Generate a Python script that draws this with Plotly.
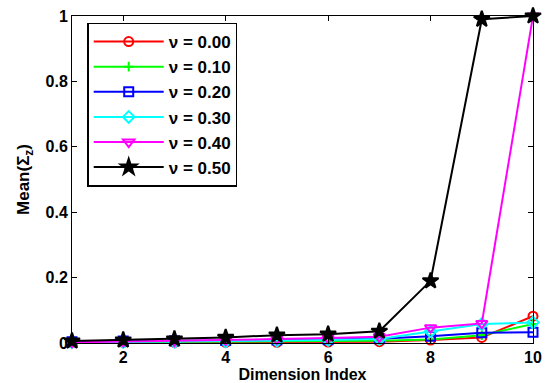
import plotly.graph_objects as go

dims = [1, 2, 3, 4, 5, 6, 7, 8, 9, 10]
nu_labels = ["ν = 0.00", "ν = 0.10", "ν = 0.20", "ν = 0.30", "ν = 0.40", "ν = 0.50"]

nu_000 = [0.002, 0.002, 0.002, 0.002, 0.002, 0.003, 0.004, 0.009, 0.017, 0.082]
nu_010 = [0.003, 0.003, 0.004, 0.004, 0.005, 0.006, 0.007, 0.011, 0.024, 0.058]
nu_020 = [0.004, 0.006, 0.007, 0.008, 0.009, 0.010, 0.013, 0.021, 0.031, 0.033]
nu_030 = [0.002, 0.003, 0.004, 0.005, 0.007, 0.009, 0.012, 0.035, 0.058, 0.063]
nu_040 = [0.002, 0.004, 0.006, 0.009, 0.012, 0.015, 0.019, 0.047, 0.060, 1.000]
nu_050 = [0.006, 0.009, 0.012, 0.017, 0.024, 0.027, 0.036, 0.190, 0.990, 1.000]

series = [nu_000, nu_010, nu_020, nu_030, nu_040, nu_050]
colors = ["#ff0000", "#00ff00", "#0000ff", "#00ffff", "#ff00ff", "#000000"]
symbols = ["circle-open", "cross-thin-open", "square-open", "diamond-open", "triangle-down-open", "star"]
sizes = [9, 7, 9, 9, 10, 12]

fig = go.Figure()
for lab, ys, c, s, sz in zip(nu_labels, series, colors, symbols, sizes):
    fig.add_trace(go.Scatter(
        x=dims, y=ys, name=lab, mode="lines+markers",
        line=dict(color=c, width=2),
        marker=dict(symbol=s, size=sz, color=c, line=dict(color=c, width=2)),
        cliponaxis=False,
    ))

font_family = "Liberation Sans, Arial"
axis_common = dict(
    showgrid=False, zeroline=False, showline=True, linecolor="black", linewidth=1,
    mirror="ticks", ticks="inside", ticklen=5, tickcolor="black", automargin=False,
    tickfont=dict(family=font_family, size=16, color="black", weight="bold"),
)

fig.update_xaxes(range=[1, 10], tickvals=[2, 4, 6, 8, 10],
                 title=dict(text="<b>Dimension Index</b>", standoff=2,
                            font=dict(family=font_family, size=16, color="black")),
                 **axis_common)
fig.update_yaxes(range=[0, 1], tickvals=[0, 0.2, 0.4, 0.6, 0.8, 1],
                 ticktext=["0", "0.2", "0.4", "0.6", "0.8", "1"],
                 title=dict(text="<b>Mean(Σ<sub>z</sub>)</b>", standoff=11,
                            font=dict(family=font_family, size=17, color="black")),
                 **axis_common)

fig.update_layout(
    width=545, height=383,
    margin=dict(l=72, r=12, t=16, b=40, autoexpand=False),
    plot_bgcolor="white", paper_bgcolor="white",
    legend=dict(x=0.033, y=0.98, xanchor="left", yanchor="top",
                bgcolor="white", bordercolor="black", borderwidth=1.5,
                font=dict(family=font_family, size=17, color="black", weight="bold"),
                itemwidth=70, tracegroupgap=0),
    showlegend=True,
)

fig.write_html("out.html", config={"displayModeBar": False},
               post_script="document.body.style.margin='0px';document.body.style.overflow='hidden';")
